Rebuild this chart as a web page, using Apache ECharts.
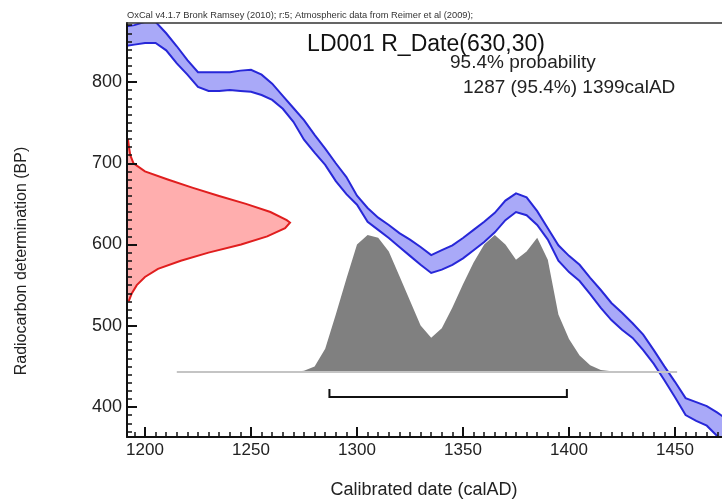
<!DOCTYPE html>
<html><head><meta charset="utf-8">
<script src="https://cdn.jsdelivr.net/npm/echarts@6/dist/echarts.min.js"></script>
<style>html,body{margin:0;padding:0;background:#fff}#c{width:722px;height:502px}</style>
</head><body><div id="c"></div>
<script>
// ---- data ----
const calYears   = [1185,1190,1195,1200,1205,1210,1215,1220,1225,1230,1235,1240,1245,1250,1255,1260,1265,1270,1275,1280,1285,1290,1295,1300,1305,1310,1315,1320,1325,1330,1335,1340,1345,1350,1355,1360,1365,1370,1375,1380,1385,1390,1395,1400,1405,1410,1415,1420,1425,1430,1435,1440,1445,1450,1455,1460,1465,1470,1475];
const curveUpper = [864,868,870,874,874,860,844,827,812,812,812,812,814,815,809,798,783,768,753,735,718,700,683,660,645,633,624,614,606,597,587,593,599,608,618,628,639,654,663,658,641,620,599,586,575,559,544,528,516,503,489,470,450,431,411,406,401,393,384];
const curveLower = [843,844,846,848,848,839,823,809,794,789,789,790,789,788,784,778,767,751,729,713,698,678,662,649,628,618,608,597,586,575,565,569,575,583,593,603,615,630,640,636,624,606,580,566,555,539,522,507,495,485,470,453,433,412,390,383,377,364,353];

const rDateBP      = [730,720,710,700,690,680,670,660,650,640,630,627,620,610,600,590,580,570,560,550,540,530];
const rDateDensity = [0.006,0.012,0.02,0.04,0.11,0.25,0.40,0.56,0.73,0.88,0.98,1.0,0.97,0.86,0.70,0.50,0.33,0.19,0.11,0.06,0.03,0.01];

const postYears = [1215,1270,1275,1280,1285,1290,1295,1300,1305,1310,1315,1320,1325,1330,1335,1340,1345,1350,1355,1360,1365,1370,1375,1380,1385,1390,1395,1400,1405,1410,1415,1420,1451];
const postProb  = [0,0,0.01,0.04,0.17,0.42,0.68,0.93,1.0,0.98,0.88,0.70,0.52,0.34,0.25,0.32,0.47,0.64,0.80,0.93,1.0,0.93,0.82,0.88,0.98,0.82,0.42,0.24,0.12,0.05,0.015,0.005,0];

const range95 = [1287, 1399];
const xTickLabels = [1200,1250,1300,1350,1400,1450];
const yTickLabels = [400,500,600,700,800];

// ---- layout (pixels) ----
const W = 722, H = 502;
const plotL = 127, plotR = 722, plotT = 23, plotB = 437;
const x1200 = 145, pxYr = 2.12;
const y800 = 82, pxBP = 0.8125;
const xp = v => x1200 + (v - 1200) * pxYr;
const yp = v => y800 + (800 - v) * pxBP;
const xMin = 1200 - (x1200 - plotL) / pxYr, xMax = 1200 + (plotR - x1200) / pxYr;
const yMax = 800 + (y800 - plotT) / pxBP, yMin = 800 - (plotB - y800) / pxBP;
const densPeakPx = 163;
const probBase = 372, probPeakPx = 137;

const BLUE = '#2727d8', BLUEFILL = '#a9a9f8';
const RED = '#e01e1e', REDFILL = '#ffaeae';
const FONT = '"Liberation Sans", Arial, sans-serif';

const xMinorStep = 5, yMinorStep = 10;
const xMinorMin = Math.ceil(xMin / xMinorStep) * xMinorStep, xMinorMax = Math.floor(xMax / xMinorStep) * xMinorStep;
const yMinorMin = Math.ceil(yMin / yMinorStep) * yMinorStep, yMinorMax = Math.floor(yMax / yMinorStep) * yMinorStep;
const xMajStep = xTickLabels[1] - xTickLabels[0], yMajStep = yTickLabels[1] - yTickLabels[0];

const grids = [
  {left: plotL, right: W - plotR, top: plotT, bottom: H - plotB},
  {left: xp(xMinorMin), right: W - xp(xMinorMax), top: plotT, bottom: H - plotB},
  {left: xp(xTickLabels[0]), right: W - xp(xTickLabels[xTickLabels.length-1]), top: plotT, bottom: H - plotB},
  {left: plotL, right: W - plotR, top: yp(yMinorMax), bottom: H - yp(yMinorMin)},
  {left: plotL, right: W - plotR, top: yp(yTickLabels[yTickLabels.length-1]), bottom: H - yp(yTickLabels[0])}
];
const hidden = (gi, extra) => Object.assign({gridIndex: gi, show: false, type: 'value', min: 0, max: 1, axisLine: {onZero: false}}, extra || {});
const lineBlack = {show: true, onZero: false, lineStyle: {color: '#111', width: 2}};
const noLine = {show: true, onZero: false, lineStyle: {color: 'rgba(0,0,0,0)', width: 0}};
const plain = v => String(v);
const AZ = 10;

const xAxes = [
  {gridIndex: 0, z: AZ, type: 'value', min: xMin, max: xMax, position: 'bottom', axisLine: lineBlack, axisTick: {show: false}, axisLabel: {show: false}, splitLine: {show: false}},
  {gridIndex: 0, z: AZ, type: 'value', min: 0, max: (plotR - plotL) / densPeakPx, position: 'top', axisLine: {show: true, onZero: false, lineStyle: {color: '#333', width: 1.5}}, axisTick: {show: false}, axisLabel: {show: false}, splitLine: {show: false}},
  {gridIndex: 1, z: AZ, type: 'value', position: 'bottom', min: xMinorMin, max: xMinorMax, interval: xMinorStep, axisLine: noLine, axisTick: {show: true, inside: true, length: 5, lineStyle: {color: '#111', width: 1.5}}, axisLabel: {show: false}, splitLine: {show: false}},
  {gridIndex: 2, z: AZ, type: 'value', position: 'bottom', min: xTickLabels[0], max: xTickLabels[xTickLabels.length-1], interval: xMajStep, axisLine: noLine, axisTick: {show: true, inside: true, length: 10, lineStyle: {color: '#111', width: 2}}, axisLabel: {show: true, margin: 5, color: '#222', fontSize: 17, fontFamily: FONT, formatter: plain}, splitLine: {show: false}},
  hidden(3), hidden(4)
];
const yAxes = [
  {gridIndex: 0, z: AZ, type: 'value', position: 'left', min: yMin, max: yMax, axisLine: lineBlack, axisTick: {show: false}, axisLabel: {show: false}, splitLine: {show: false}},
  hidden(0, {position: 'right', min: -(plotB - probBase) / probPeakPx, max: (probBase - plotT) / probPeakPx}),
  hidden(1), hidden(2),
  {gridIndex: 3, z: AZ, type: 'value', position: 'left', min: yMinorMin, max: yMinorMax, interval: yMinorStep, axisLine: noLine, axisTick: {show: true, inside: true, length: 5, lineStyle: {color: '#111', width: 1.5}}, axisLabel: {show: false}, splitLine: {show: false}},
  {gridIndex: 4, z: AZ, type: 'value', position: 'left', min: yTickLabels[0], max: yTickLabels[yTickLabels.length-1], interval: yMajStep, axisLine: noLine, axisTick: {show: true, inside: true, length: 10, lineStyle: {color: '#111', width: 2}}, axisLabel: {show: true, margin: 5, color: '#222', fontSize: 18, fontFamily: FONT, formatter: plain}, splitLine: {show: false}}
];

function bandRender(params, api) {
  if (params.dataIndex !== 0) return null;
  const up = calYears.map((x, i) => api.coord([x, curveUpper[i]]));
  const lo = calYears.map((x, i) => api.coord([x, curveLower[i]]));
  return {type: 'group', children: [
    {type: 'polygon', shape: {points: up.concat(lo.slice().reverse())}, style: {fill: BLUEFILL, stroke: 'none'}},
    {type: 'polyline', shape: {points: up}, style: {stroke: BLUE, lineWidth: 2, fill: 'none'}},
    {type: 'polyline', shape: {points: lo}, style: {stroke: BLUE, lineWidth: 2, fill: 'none'}}
  ]};
}
function redRender(params, api) {
  if (params.dataIndex !== 0) return null;
  const pts = rDateBP.map((b, i) => api.coord([rDateDensity[i], b]));
  const closed = [api.coord([0, rDateBP[0]])].concat(pts, [api.coord([0, rDateBP[rDateBP.length-1]])]);
  return {type: 'group', children: [
    {type: 'polygon', shape: {points: closed}, style: {fill: REDFILL, stroke: 'none'}},
    {type: 'polyline', shape: {points: pts}, style: {stroke: RED, lineWidth: 2, fill: 'none'}}
  ]};
}
function bracketRender(params, api) {
  const a = api.coord([api.value(0), 0]);
  const b = api.coord([api.value(1), 0]);
  const y = a[1] + 25;
  return {type: 'polyline', shape: {points: [[a[0], y - 8], [a[0], y], [b[0], y], [b[0], y - 8]]}, style: {stroke: '#111', lineWidth: 2, fill: 'none'}};
}

const option = {
  animation: false,
  backgroundColor: '#fff',
  grid: grids,
  xAxis: xAxes,
  yAxis: yAxes,
  series: [
    {type: 'line', xAxisIndex: 0, yAxisIndex: 1, symbol: 'none', silent: true,
     data: [[postYears[0], 0], [postYears[postYears.length-1], 0]], lineStyle: {color: '#c4c4c4', width: 2}},
    {type: 'line', xAxisIndex: 0, yAxisIndex: 1, symbol: 'none', silent: true,
     data: postYears.map((y, i) => [y, postProb[i]]), lineStyle: {width: 0}, areaStyle: {color: '#808080', opacity: 1}},
    {type: 'custom', xAxisIndex: 1, yAxisIndex: 0, clip: true, silent: true, renderItem: redRender,
     data: [[rDateDensity[0], rDateBP[0]]]},
    {type: 'custom', xAxisIndex: 0, yAxisIndex: 0, clip: true, silent: true, renderItem: bandRender,
     data: [[calYears[0], curveUpper[0]]]},
    {type: 'custom', xAxisIndex: 0, yAxisIndex: 1, silent: true, renderItem: bracketRender,
     data: [[range95[0], range95[1]]]}
  ],
  graphic: [
    {type: 'text', x: plotL, y: 20, style: {text: 'OxCal v4.1.7 Bronk Ramsey (2010); r:5; Atmospheric data from Reimer et al (2009);', font: '9.3px ' + FONT, fill: '#333', align: 'left', verticalAlign: 'bottom'}},
    {type: 'text', x: 426, y: 45, style: {text: 'LD001 R_Date(630,30)', font: '23px ' + FONT, fill: '#111', align: 'center', verticalAlign: 'middle'}},
    {type: 'text', x: 450, y: 63, style: {text: '95.4% probability', font: '19px ' + FONT, fill: '#222', align: 'left', verticalAlign: 'middle'}},
    {type: 'text', x: 463, y: 88, style: {text: '1287 (95.4%) 1399calAD', font: '19px ' + FONT, fill: '#222', align: 'left', verticalAlign: 'middle'}},
    {type: 'text', x: 424, y: 490, style: {text: 'Calibrated date (calAD)', font: '18px ' + FONT, fill: '#222', align: 'center', verticalAlign: 'middle'}},
    {type: 'text', x: 22, y: 261, rotation: Math.PI / 2, style: {text: 'Radiocarbon determination (BP)', font: '16px ' + FONT, fill: '#222', align: 'center', verticalAlign: 'middle'}}
  ]
};
echarts.init(document.getElementById('c'), null, {renderer: 'canvas'}).setOption(option);
</script></body></html>
